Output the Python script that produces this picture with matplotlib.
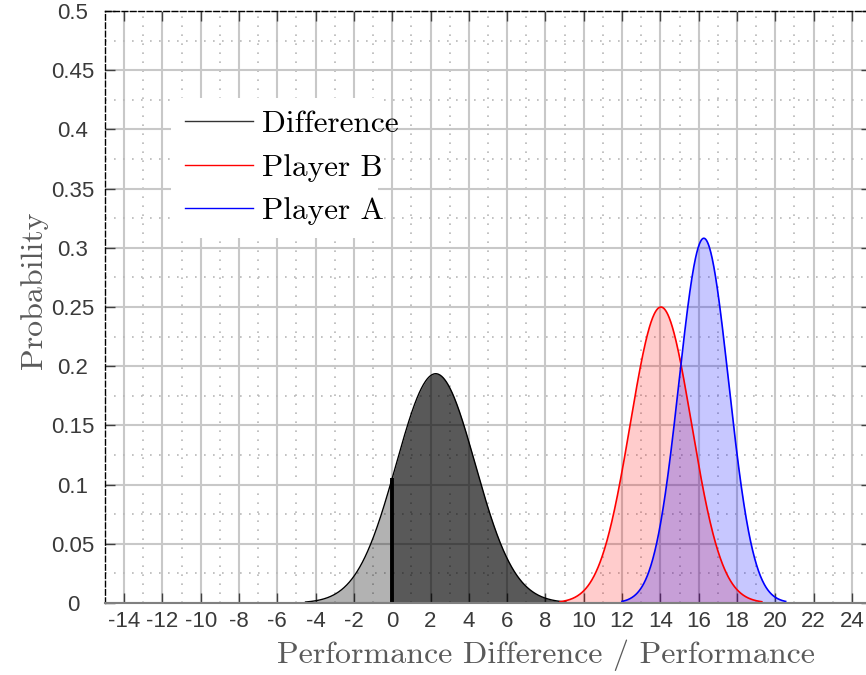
import numpy as np
import matplotlib.pyplot as plt
from matplotlib.lines import Line2D
from matplotlib.patches import Rectangle
from matplotlib.ticker import MultipleLocator

# normal distributions: performance difference, player B, player A
labels = ["Difference", "Player B", "Player A"]
means = [2.27, 14.03, 16.27]
sigmas = [2.06, 1.596, 1.295]
threshold = 0.0

x_ticks = list(range(-14, 25, 2))
x_tick_labels = [str(v) for v in x_ticks]
y_ticks = [0, 0.05, 0.1, 0.15, 0.2, 0.25, 0.3, 0.35, 0.4, 0.45, 0.5]
y_tick_labels = ["0", "0.05", "0.1", "0.15", "0.2", "0.25", "0.3", "0.35", "0.4", "0.45", "0.5"]


def normal_pdf(x, mu, s):
    return np.exp(-0.5 * ((x - mu) / s) ** 2) / (s * np.sqrt(2 * np.pi))


def support(mu, s):
    return np.linspace(mu - 3.3 * s, mu + 3.3 * s, 500)


fig = plt.figure(figsize=(8.66, 6.75), dpi=100)
ax = fig.add_axes([105 / 866, 72 / 675, 766 / 866, 592 / 675])

ax.set_xlim(-15, 25)
ax.set_ylim(0, 0.5)
ax.set_axisbelow(True)
ax.xaxis.set_minor_locator(MultipleLocator(1))
ax.yaxis.set_minor_locator(MultipleLocator(0.025))
ax.grid(which="major", color="#c8c8c8", lw=1.5)
ax.grid(which="minor", color="#b8b8b8", ls=(0, (1, 4.4)), lw=1.2)

# difference: light below the threshold, dark above it
x = support(means[0], sigmas[0])
y = normal_pdf(x, means[0], sigmas[0])
ax.fill_between(x, 0, y, where=x <= threshold, color="black", alpha=0.3, lw=0)
ax.fill_between(x, 0, y, where=x >= threshold, color="black", alpha=0.65, lw=0)
ax.plot(x, y, color="black", lw=1)
ax.vlines(threshold, 0, normal_pdf(threshold, means[0], sigmas[0]), color="black", lw=2.8)

# players
x = support(means[1], sigmas[1])
y = normal_pdf(x, means[1], sigmas[1])
ax.fill_between(x, 0, y, color="red", alpha=0.2, lw=0)
ax.plot(x, y, color="red", lw=1.2)

x = support(means[2], sigmas[2])
y = normal_pdf(x, means[2], sigmas[2])
ax.fill_between(x, 0, y, color="blue", alpha=0.22, lw=0)
ax.plot(x, y, color="blue", lw=1.2)

ax.set_xticks(x_ticks)
ax.set_xticklabels(x_tick_labels)
ax.set_yticks(y_ticks)
ax.set_yticklabels(y_tick_labels)
ax.tick_params(which="major", direction="in", length=7, width=1, color="#404040",
               top=True, right=True, labelsize=16, labelcolor="#3a3a3a")
ax.tick_params(which="minor", length=0)
ax.tick_params(axis="x", pad=6)
ax.tick_params(axis="y", pad=23)
for lbl in ax.get_xticklabels() + ax.get_yticklabels():
    lbl.set_fontfamily("Liberation Sans")
for lbl in ax.get_yticklabels():
    lbl.set_ha("center")

for side in ["top", "left"]:
    ax.spines[side].set_linestyle((0, (4, 2)))
    ax.spines[side].set_color("black")
    ax.spines[side].set_linewidth(1)
ax.spines["bottom"].set_color("#808080")
ax.spines["bottom"].set_linewidth(1.5)

# legend on a white patch
ax.add_patch(Rectangle((66 / 766, 365 / 592), 207 / 766, 140 / 592, transform=ax.transAxes,
                       facecolor="white", edgecolor="none", zorder=1.5))
handles = [Line2D([], [], color="#333333", lw=1),
           Line2D([], [], color="red", lw=1),
           Line2D([], [], color="blue", lw=1)]
ax.legend(handles, labels, loc="upper left", bbox_to_anchor=(80 / 766, 493 / 592),
          frameon=False, borderpad=0, borderaxespad=0, handlelength=2.18,
          handletextpad=0.29, labelspacing=0.5,
          prop={"family": "cmr10", "size": 22.5})

fig.text(546 / 866, 1 - 663 / 675, "Performance Difference / Performance", family="cmr10",
         size=23, color="#5a5a5a", ha="center", va="baseline")
fig.text(42 / 866, 1 - 290 / 675, "Probability", family="cmr10", size=23, color="#5a5a5a",
         rotation=90, rotation_mode="anchor", ha="center", va="baseline")

fig.savefig("out.png", dpi=100)
